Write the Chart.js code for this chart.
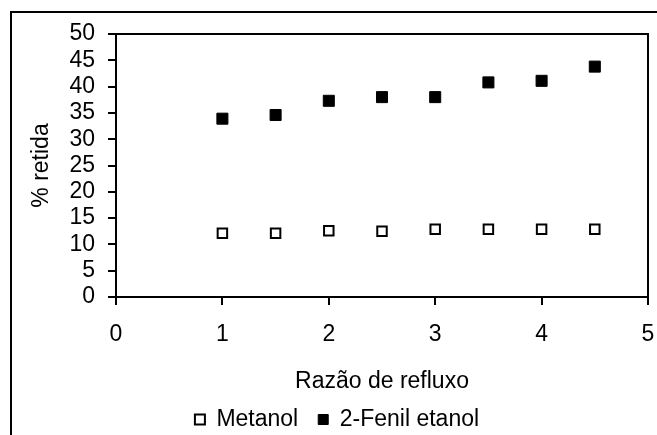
<!DOCTYPE html>
<html>
<head>
<meta charset="utf-8">
<script src="https://cdn.jsdelivr.net/npm/chart.js"></script>
<style>
  html, body { margin: 0; padding: 0; background: #fff; overflow: hidden; }
  #wrap { width: 657px; height: 435px; }
</style>
</head>
<body>
<div id="wrap"><canvas id="chart"></canvas></div>
<script>
// reflux ratio (x) and % retained for each compound
const razao = [1, 1.5, 2, 2.5, 3, 3.5, 4, 4.5];
const metanol = [12.1, 12.1, 12.6, 12.5, 12.9, 12.9, 12.9, 12.9];
const fenilEtanol = [33.9, 34.6, 37.3, 38.0, 38.0, 40.8, 41.1, 43.8];
const xTicks = [0, 1, 2, 3, 4, 5];
const yTicks = [0, 5, 10, 15, 20, 25, 30, 35, 40, 45, 50];

const FONT = "'Liberation Sans', Arial, sans-serif";
const SIZE = 23;

function toPoints(ys) {
  return razao.map((x, i) => ({ x: x, y: ys[i] }));
}

// outer frame + box around the plot area
const framePlugin = {
  id: "frame",
  beforeDraw(chart) {
    const c = chart.ctx;
    c.save();
    c.fillStyle = "#fff";
    c.fillRect(0, 0, chart.width, chart.height);
    c.strokeStyle = "#000";
    c.lineWidth = 2;
    c.strokeRect(11, 12, 1000, 1000);
    c.restore();
  },
  afterDatasetsDraw(chart) {
    const a = chart.chartArea;
    const c = chart.ctx;
    c.save();
    c.strokeStyle = "#000";
    c.lineWidth = 2;
    c.strokeRect(a.left, a.top, a.right - a.left, a.bottom - a.top);
    c.restore();
  }
};

Chart.defaults.font.family = FONT;
Chart.defaults.color = "#000";

new Chart(document.getElementById("chart"), {
  type: "scatter",
  data: {
    datasets: [
      {
        label: "Metanol",
        data: toPoints(metanol),
        pointStyle: "rect",
        pointRadius: 6.7,
        pointHoverRadius: 6.7,
        backgroundColor: "#fff",
        borderColor: "#000",
        borderWidth: 2
      },
      {
        label: "2-Fenil etanol",
        data: toPoints(fenilEtanol),
        pointStyle: "rect",
        pointRadius: 7.8,
        pointHoverRadius: 7.8,
        backgroundColor: "#000",
        borderColor: "#000",
        borderWidth: 1
      }
    ]
  },
  options: {
    responsive: true,
    maintainAspectRatio: false,
    animation: false,
    layout: { padding: { left: 26, right: 9, top: 34, bottom: -6 } },
    plugins: {
      tooltip: { enabled: false },
      legend: {
        position: "bottom",
        labels: {
          usePointStyle: true,
          boxHeight: 10,
          pointStyleWidth: 10,
          padding: 20,
          font: { size: SIZE, family: FONT },
          color: "#000"
        }
      }
    },
    scales: {
      x: {
        type: "linear",
        min: 0,
        max: 5,
        afterBuildTicks(s) { s.ticks = xTicks.map(v => ({ value: v })); },
        afterFit(s) {
          s.height = 91;
          s.paddingLeft = 7;
          s.paddingRight = 7;
        },
        grid: { drawOnChartArea: false, drawTicks: true, tickLength: 8, color: "#000", lineWidth: 2 },
        border: { display: true, color: "#000", width: 2 },
        ticks: { padding: 16, autoSkip: false, maxRotation: 0, font: { size: SIZE, family: FONT }, color: "#000" },
        title: {
          display: true,
          text: "Razão de refluxo",
          font: { size: SIZE, family: FONT },
          color: "#000",
          padding: { top: 0, bottom: -7 }
        }
      },
      y: {
        type: "linear",
        min: 0,
        max: 50,
        afterBuildTicks(s) { s.ticks = yTicks.map(v => ({ value: v })); },
        afterFit(s) { s.width = 90; },
        grid: { drawOnChartArea: false, drawTicks: true, tickLength: 8, color: "#000", lineWidth: 2 },
        border: { display: true, color: "#000", width: 2 },
        ticks: { padding: 13, autoSkip: false, font: { size: SIZE, family: FONT }, color: "#000" },
        title: {
          display: true,
          text: "% retida",
          font: { size: SIZE, family: FONT },
          color: "#000",
          padding: { top: 2, bottom: 0 }
        }
      }
    }
  },
  plugins: [framePlugin]
});
</script>
</body>
</html>
